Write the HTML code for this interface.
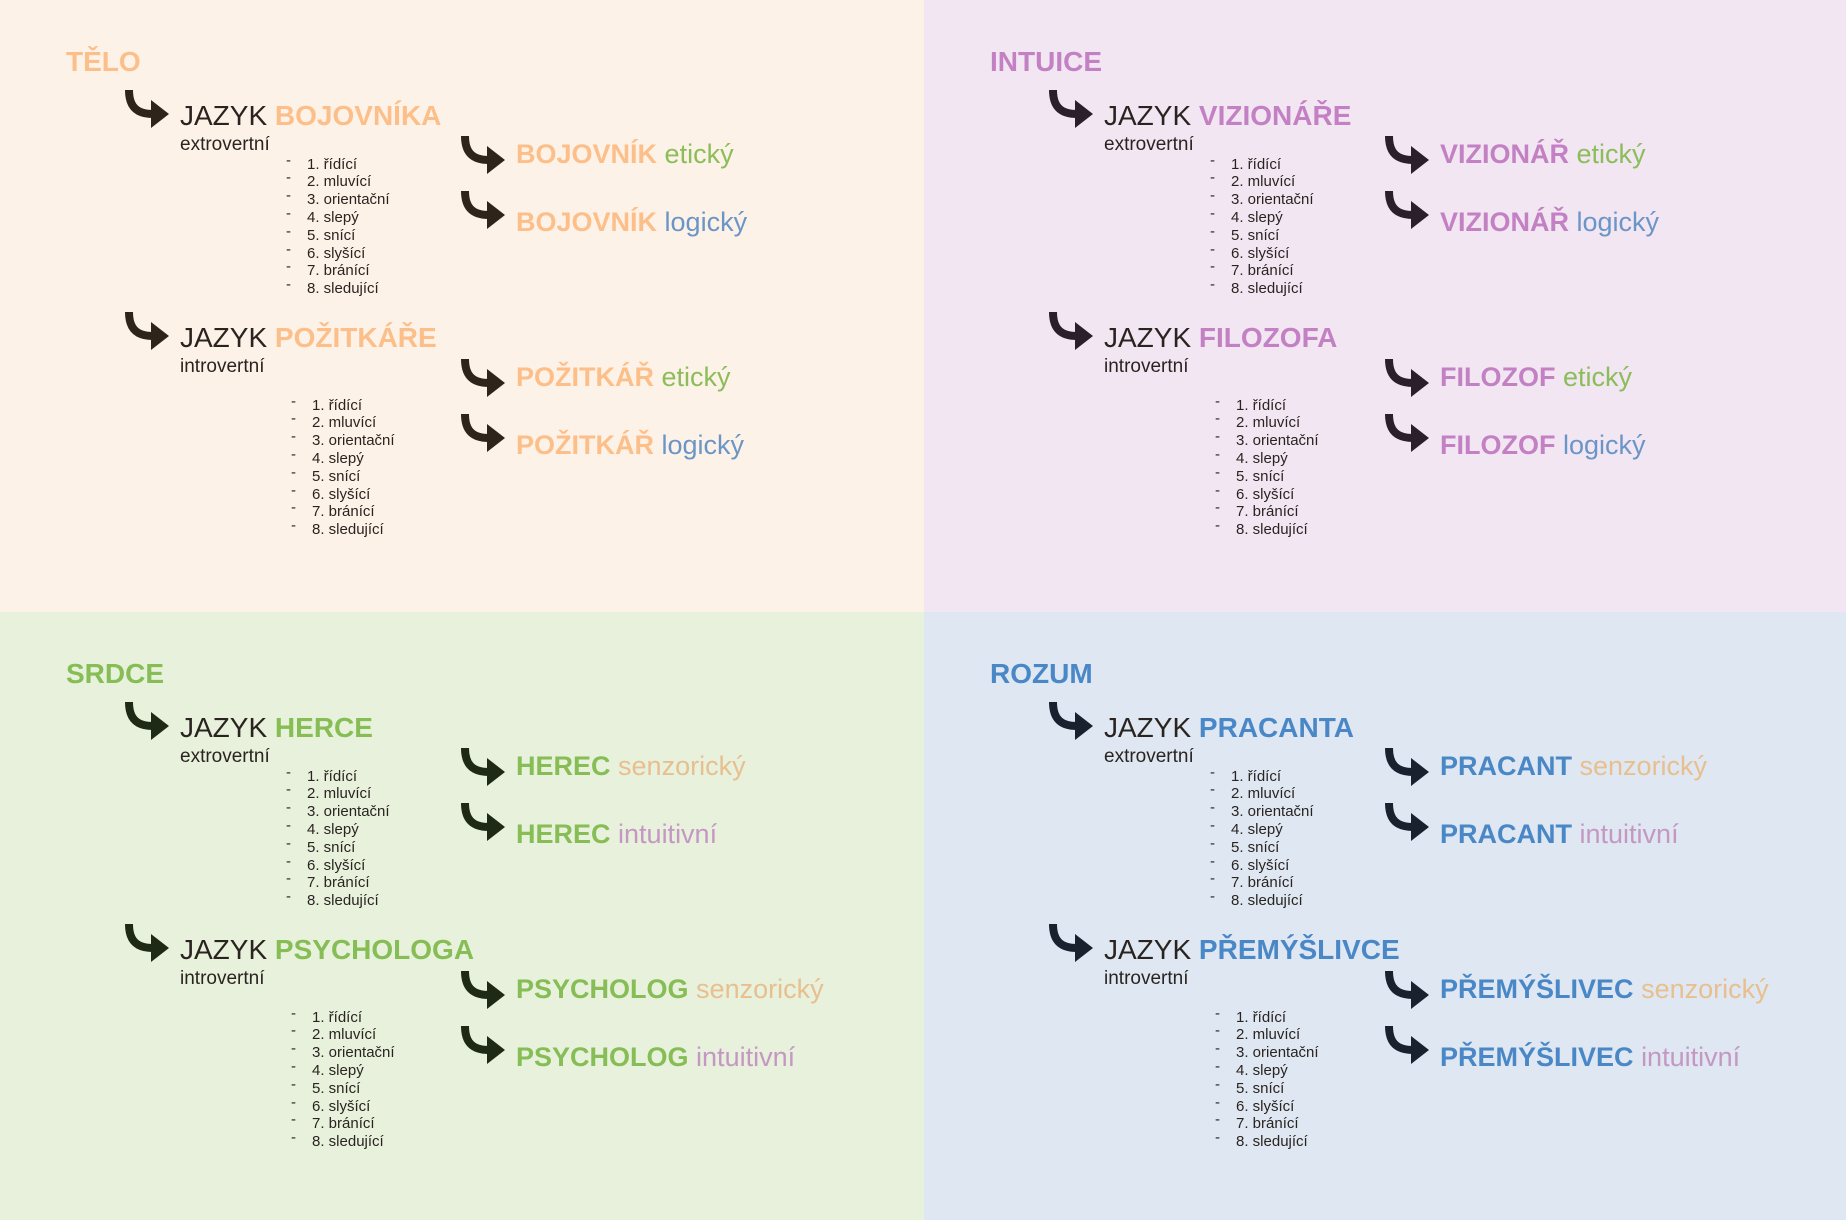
<!DOCTYPE html>
<html><head><meta charset="utf-8">
<style>
html,body{margin:0;padding:0}
body{width:1846px;height:1220px;position:relative;overflow:hidden;font-family:"Liberation Sans",Arial,sans-serif;background:#fff}
.q{position:absolute}
.t{position:absolute;white-space:nowrap;line-height:1}
svg.a{position:absolute}
</style></head><body>
<script>
var quads=[
 {name:'telo',title:'TĚLO',bg:'#fdf2e7',main:'#fdbf8a',dark:'#2e241a',x:0,y:0,w:924,h:612,
  l1:'BOJOVNÍKA',l2:'POŽITKÁŘE',t1:'BOJOVNÍK',t2:'POŽITKÁŘ',s1:'etický',c1:'#8bbd58',s2:'logický',c2:'#6b95c6'},
 {name:'intuice',title:'INTUICE',bg:'#f2e6f3',main:'#c381c4',dark:'#2a1f2b',x:924,y:0,w:922,h:612,
  l1:'VIZIONÁŘE',l2:'FILOZOFA',t1:'VIZIONÁŘ',t2:'FILOZOF',s1:'etický',c1:'#8bbd58',s2:'logický',c2:'#6b95c6'},
 {name:'srdce',title:'SRDCE',bg:'#e7f1dc',main:'#86bd55',dark:'#1f2a16',x:0,y:612,w:924,h:608,
  l1:'HERCE',l2:'PSYCHOLOGA',t1:'HEREC',t2:'PSYCHOLOG',s1:'senzorický',c1:'#e8bf8e',s2:'intuitivní',c2:'#c498c2'},
 {name:'rozum',title:'ROZUM',bg:'#dee7f2',main:'#4a87c6',dark:'#19212f',x:924,y:612,w:922,h:608,
  l1:'PRACANTA',l2:'PŘEMÝŠLIVCE',t1:'PRACANT',t2:'PŘEMÝŠLIVEC',s1:'senzorický',c1:'#e8bf8e',s2:'intuitivní',c2:'#c498c2'}
];
var items=['1. řídící','2. mluvící','3. orientační','4. slepý','5. snící','6. slyšící','7. bránící','8. sledující'];
function txt(parent,x,base,size,html,name,weight,color){
  var d=document.createElement('div');
  d.className='t';
  d.style.left=x+'px';d.style.top=(base-size*0.9)+'px';d.style.fontSize=size+'px';
  if(weight)d.style.fontWeight=weight;
  d.style.color=color||'#2a2420';
  d.innerHTML=html;
  
  
  parent.appendChild(d);return d;
}
function arrow(parent,x,y,color,name){
  var ns='http://www.w3.org/2000/svg';
  var s=document.createElementNS(ns,'svg');
  s.setAttribute('class','a');s.setAttribute('width','48');s.setAttribute('height','40');s.setAttribute('viewBox','0 0 48 40');
  s.style.left=x+'px';s.style.top=y+'px';
  s.innerHTML='<path d="M7,1 C7,18 15,25 31,25" fill="none" stroke="'+color+'" stroke-width="8"/><polygon points="29,11 47,25 29,39" fill="'+color+'"/>';
  
  
  parent.appendChild(s);
}
quads.forEach(function(q){
  var d=document.createElement('div');
  d.className='q';
  d.style.left=q.x+'px';d.style.top=q.y+'px';d.style.width=q.w+'px';d.style.height=q.h+'px';d.style.background=q.bg;
  
  
  document.body.appendChild(d);
  txt(d,66,73,28,q.title,q.name+'-title','bold',q.main);
  var groups=[{l:q.l1,t:q.t1,sub:'extrovertní',dy:0,lx:286},{l:q.l2,t:q.t2,sub:'introvertní',dy:222,lx:291}];
  groups.forEach(function(g,gi){
    var dy=g.dy;
    var listDy = gi===0?0:19;
    arrow(d,122,89+dy,q.dark,q.name+'-language-arrow-'+(gi+1));
    txt(d,180,127+dy,28,'JAZYK <b style="color:'+q.main+'">'+g.l+'</b>',q.name+'-language-heading-'+(gi+1),null,'#2a2420');
    txt(d,180,152+dy,19,g.sub,q.name+'-language-subtitle-'+(gi+1));
    items.forEach(function(it,i){
      var b=170+dy+listDy+i*17.8;
      txt(d,g.lx,b-4,15,'-',q.name+'-list-dash',null,'#2a2420');
      txt(d,g.lx+21,b,15,it,q.name+'-list-item',null,'#2a2420');
    });
    var ry = gi===0?0:223;
    arrow(d,458,135+ry,q.dark,q.name+'-type-arrow-a');
    txt(d,516,165+ry,27,'<b style="color:'+q.main+'">'+g.t+'</b> <span style="color:'+q.c1+'">'+q.s1+'</span>',q.name+'-type-'+(gi+1)+'-a');
    arrow(d,458,190+ry,q.dark,q.name+'-type-arrow-b');
    txt(d,516,233+ry,27,'<b style="color:'+q.main+'">'+g.t+'</b> <span style="color:'+q.c2+'">'+q.s2+'</span>',q.name+'-type-'+(gi+1)+'-b');
  });
});
</script>
</body></html>
